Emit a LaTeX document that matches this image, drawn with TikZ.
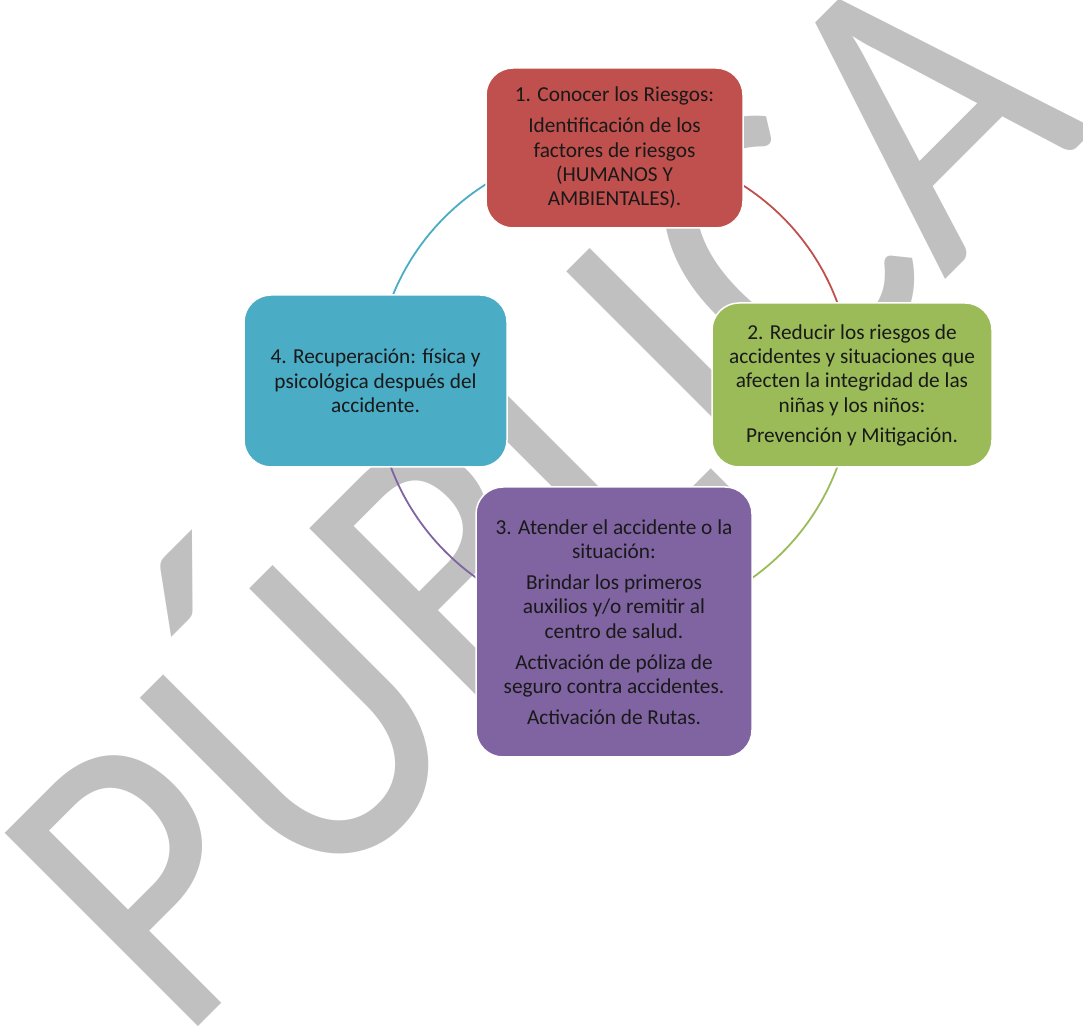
\documentclass[tikz,border=0pt]{standalone}
\usepackage{fontspec}
\setmainfont{Carlito}
\usepackage{tikz}

\definecolor{rojo}{HTML}{C0504D}
\definecolor{verde}{HTML}{9BBB59}
\definecolor{morado}{HTML}{8064A2}
\definecolor{azul}{HTML}{4BACC6}
\definecolor{plata}{HTML}{C0C0C0}

\pgfdeclarelayer{fondo}
\pgfdeclarelayer{enlaces}
\pgfsetlayers{fondo,enlaces,main}

\begin{document}
\begin{tikzpicture}[x=1pt,y=1pt,
    caja/.style={draw=white,line width=1.5pt,rounded corners=27pt,align=center,
        text=black!90,font=\fontsize{21.3}{24.3}\selectfont,inner sep=0pt},
    enlace/.style={line width=1.8pt,bend left=45}]
    \useasboundingbox (0,0) rectangle (1083,1028);
    \clip (0,0) rectangle (1083,1028);
    \coordinate (ciclo) at (614,645);
    % marca de agua
    \begin{pgfonlayer}{fondo}
        \node[text=plata,rotate=45,yscale=1.145,anchor=base west,inner sep=0pt,
            font=\fontsize{372}{372}\selectfont] (marca) at (179.5,-17.5) {PÚBLICA};
    \end{pgfonlayer}
    \node[caja,fill=rojo,minimum width=257,minimum height=160] (riesgos) at ([shift={(0.5,235)}]ciclo)
        {1. Conocer los Riesgos:\\[6.7pt] Identificación de los\\ factores de riesgos\\ (HUMANOS Y\\ AMBIENTALES).};
    \node[caja,fill=verde,minimum width=280,minimum height=164] (reducir) at ([shift={(238,-2)}]ciclo)
        {2. Reducir los riesgos de\\ accidentes y situaciones que\\ afecten la integridad de las\\ niñas y los niños:\\[5.7pt] Prevención y Mitigación.};
    \node[caja,fill=morado,minimum width=276,minimum height=270] (atender) at ([shift={(0,-239)}]ciclo)
        {3. Atender el accidente o la\\ situación:\\[6.7pt] Brindar los primeros\\ auxilios y/o remitir al\\ centro de salud.\\[6.7pt] Activación de póliza de\\ seguro contra accidentes.\\[6.7pt] Activación de Rutas.};
    \node[caja,fill=azul,minimum width=263,minimum height=172] (recupera) at ([shift={(-238.5,2)}]ciclo)
        {4. Recuperación: física y\\ psicológica después del\\ accidente.};
    \begin{pgfonlayer}{enlaces}
        \draw[enlace,rojo] (riesgos.center) to (reducir.center);
        \draw[enlace,verde] (reducir.center) to (atender.center);
        \draw[enlace,morado] (atender.center) to (recupera.center);
        \draw[enlace,azul] (recupera.center) to (riesgos.center);
    \end{pgfonlayer}
\end{tikzpicture}
\end{document}
